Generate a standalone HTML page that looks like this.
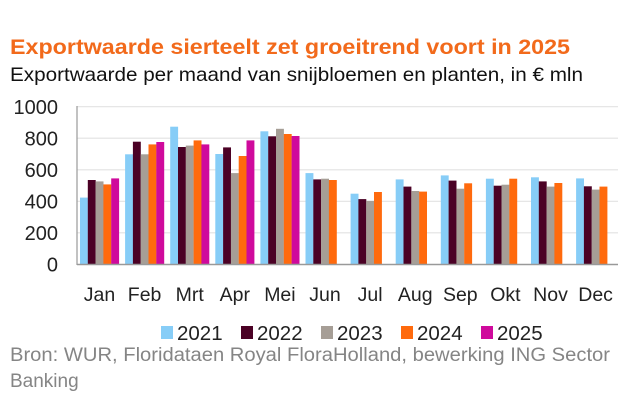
<!DOCTYPE html>
<html><head><meta charset="utf-8"><style>
body{margin:0;background:#fff;width:626px;height:417px;overflow:hidden}
svg{display:block;font-family:"Liberation Sans",sans-serif}
</style></head><body>
<svg width="626" height="417" viewBox="0 0 626 417">
<text x="10" y="54" font-size="21" font-weight="bold" fill="#f26a1b" textLength="560" lengthAdjust="spacingAndGlyphs">Exportwaarde sierteelt zet groeitrend voort in 2025</text>
<text x="10" y="81" font-size="19.5" fill="#111" textLength="573" lengthAdjust="spacingAndGlyphs">Exportwaarde per maand van snijbloemen en planten, in € mln</text>
<g stroke="#e2e2e2" stroke-width="1.2">
<line x1="77" x2="618" y1="106.7" y2="106.7"/><line x1="77" x2="618" y1="138.2" y2="138.2"/><line x1="77" x2="618" y1="169.8" y2="169.8"/><line x1="77" x2="618" y1="201.3" y2="201.3"/><line x1="77" x2="618" y1="232.8" y2="232.8"/>
</g>
<g>
<rect x="80" y="197.6" width="7.9" height="66.7" fill="#87cdf7"/><rect x="87.8" y="180" width="7.9" height="84.3" fill="#4b0125"/><rect x="95.6" y="181.4" width="7.9" height="82.9" fill="#a69e96"/><rect x="103.4" y="184.4" width="7.9" height="79.9" fill="#ff6a0d"/><rect x="111.2" y="178.4" width="7.9" height="85.9" fill="#cf0a9c"/>
<rect x="125.1" y="154.3" width="7.9" height="110" fill="#87cdf7"/><rect x="132.9" y="141.7" width="7.9" height="122.6" fill="#4b0125"/><rect x="140.7" y="154.3" width="7.9" height="110" fill="#a69e96"/><rect x="148.5" y="144.4" width="7.9" height="119.9" fill="#ff6a0d"/><rect x="156.3" y="142" width="7.9" height="122.3" fill="#cf0a9c"/>
<rect x="170.2" y="126.7" width="7.9" height="137.6" fill="#87cdf7"/><rect x="178" y="147" width="7.9" height="117.3" fill="#4b0125"/><rect x="185.8" y="145.6" width="7.9" height="118.7" fill="#a69e96"/><rect x="193.6" y="140.4" width="7.9" height="123.9" fill="#ff6a0d"/><rect x="201.4" y="144.4" width="7.9" height="119.9" fill="#cf0a9c"/>
<rect x="215.3" y="154" width="7.9" height="110.3" fill="#87cdf7"/><rect x="223.1" y="147.4" width="7.9" height="116.9" fill="#4b0125"/><rect x="230.9" y="173.1" width="7.9" height="91.2" fill="#a69e96"/><rect x="238.7" y="156" width="7.9" height="108.3" fill="#ff6a0d"/><rect x="246.5" y="140.4" width="7.9" height="123.9" fill="#cf0a9c"/>
<rect x="260.4" y="131.3" width="7.9" height="133" fill="#87cdf7"/><rect x="268.2" y="136.3" width="7.9" height="128" fill="#4b0125"/><rect x="276" y="128.8" width="7.9" height="135.5" fill="#a69e96"/><rect x="283.8" y="134" width="7.9" height="130.3" fill="#ff6a0d"/><rect x="291.6" y="136" width="7.9" height="128.3" fill="#cf0a9c"/>
<rect x="305.5" y="173.1" width="7.9" height="91.2" fill="#87cdf7"/><rect x="313.3" y="179.4" width="7.9" height="84.9" fill="#4b0125"/><rect x="321.1" y="178.7" width="7.9" height="85.6" fill="#a69e96"/><rect x="328.9" y="180" width="7.9" height="84.3" fill="#ff6a0d"/>
<rect x="350.6" y="193.7" width="7.9" height="70.6" fill="#87cdf7"/><rect x="358.4" y="199.1" width="7.9" height="65.2" fill="#4b0125"/><rect x="366.2" y="200.9" width="7.9" height="63.4" fill="#a69e96"/><rect x="374" y="192" width="7.9" height="72.3" fill="#ff6a0d"/>
<rect x="395.7" y="179.4" width="7.9" height="84.9" fill="#87cdf7"/><rect x="403.5" y="186.6" width="7.9" height="77.7" fill="#4b0125"/><rect x="411.3" y="191" width="7.9" height="73.3" fill="#a69e96"/><rect x="419.1" y="191.6" width="7.9" height="72.7" fill="#ff6a0d"/>
<rect x="440.8" y="175.4" width="7.9" height="88.9" fill="#87cdf7"/><rect x="448.6" y="180.6" width="7.9" height="83.7" fill="#4b0125"/><rect x="456.4" y="188.7" width="7.9" height="75.6" fill="#a69e96"/><rect x="464.2" y="183.3" width="7.9" height="81" fill="#ff6a0d"/>
<rect x="485.9" y="178.7" width="7.9" height="85.6" fill="#87cdf7"/><rect x="493.7" y="185.7" width="7.9" height="78.6" fill="#4b0125"/><rect x="501.5" y="184.7" width="7.9" height="79.6" fill="#a69e96"/><rect x="509.3" y="178.7" width="7.9" height="85.6" fill="#ff6a0d"/>
<rect x="531" y="177.3" width="7.9" height="87" fill="#87cdf7"/><rect x="538.8" y="181.4" width="7.9" height="82.9" fill="#4b0125"/><rect x="546.6" y="186.6" width="7.9" height="77.7" fill="#a69e96"/><rect x="554.4" y="183" width="7.9" height="81.3" fill="#ff6a0d"/>
<rect x="576.1" y="178.4" width="7.9" height="85.9" fill="#87cdf7"/><rect x="583.9" y="186.3" width="7.9" height="78" fill="#4b0125"/><rect x="591.7" y="189.6" width="7.9" height="74.7" fill="#a69e96"/><rect x="599.5" y="186.6" width="7.9" height="77.7" fill="#ff6a0d"/>
</g>
<line x1="77" x2="77" y1="106" y2="265" stroke="#999" stroke-width="1.2"/>
<line x1="77" x2="618" y1="264.5" y2="264.5" stroke="#999" stroke-width="1.5"/>
<g font-size="20" fill="#222" text-anchor="end">
<text x="58" y="114">1000</text><text x="58" y="145.5">800</text><text x="58" y="177">600</text><text x="58" y="208.5">400</text><text x="58" y="240">200</text><text x="58" y="271.5">0</text>
</g>
<g font-size="19.5" fill="#222" text-anchor="middle">
<text x="99.5" y="301">Jan</text><text x="144.6" y="301">Feb</text><text x="189.7" y="301">Mrt</text><text x="234.8" y="301">Apr</text><text x="279.9" y="301">Mei</text><text x="325" y="301">Jun</text><text x="370.1" y="301">Jul</text><text x="415.2" y="301">Aug</text><text x="460.3" y="301">Sep</text><text x="505.4" y="301">Okt</text><text x="550.5" y="301">Nov</text><text x="595.6" y="301">Dec</text>
</g>
<g font-size="20.5" fill="#222">
<rect x="161" y="326" width="12" height="13" fill="#87cdf7"/><text x="177" y="340">2021</text>
<rect x="241" y="326" width="12" height="13" fill="#4b0125"/><text x="257" y="340">2022</text>
<rect x="321" y="326" width="12" height="13" fill="#a69e96"/><text x="337" y="340">2023</text>
<rect x="401" y="326" width="12" height="13" fill="#ff6a0d"/><text x="417" y="340">2024</text>
<rect x="481" y="326" width="12" height="13" fill="#cf0a9c"/><text x="497" y="340">2025</text>
</g>
<g font-size="19" fill="#858585">
<text x="10" y="361" textLength="600" lengthAdjust="spacingAndGlyphs">Bron: WUR, Floridataen Royal FloraHolland, bewerking ING Sector</text>
<text x="10" y="387">Banking</text>
</g>
</svg>
</body></html>
